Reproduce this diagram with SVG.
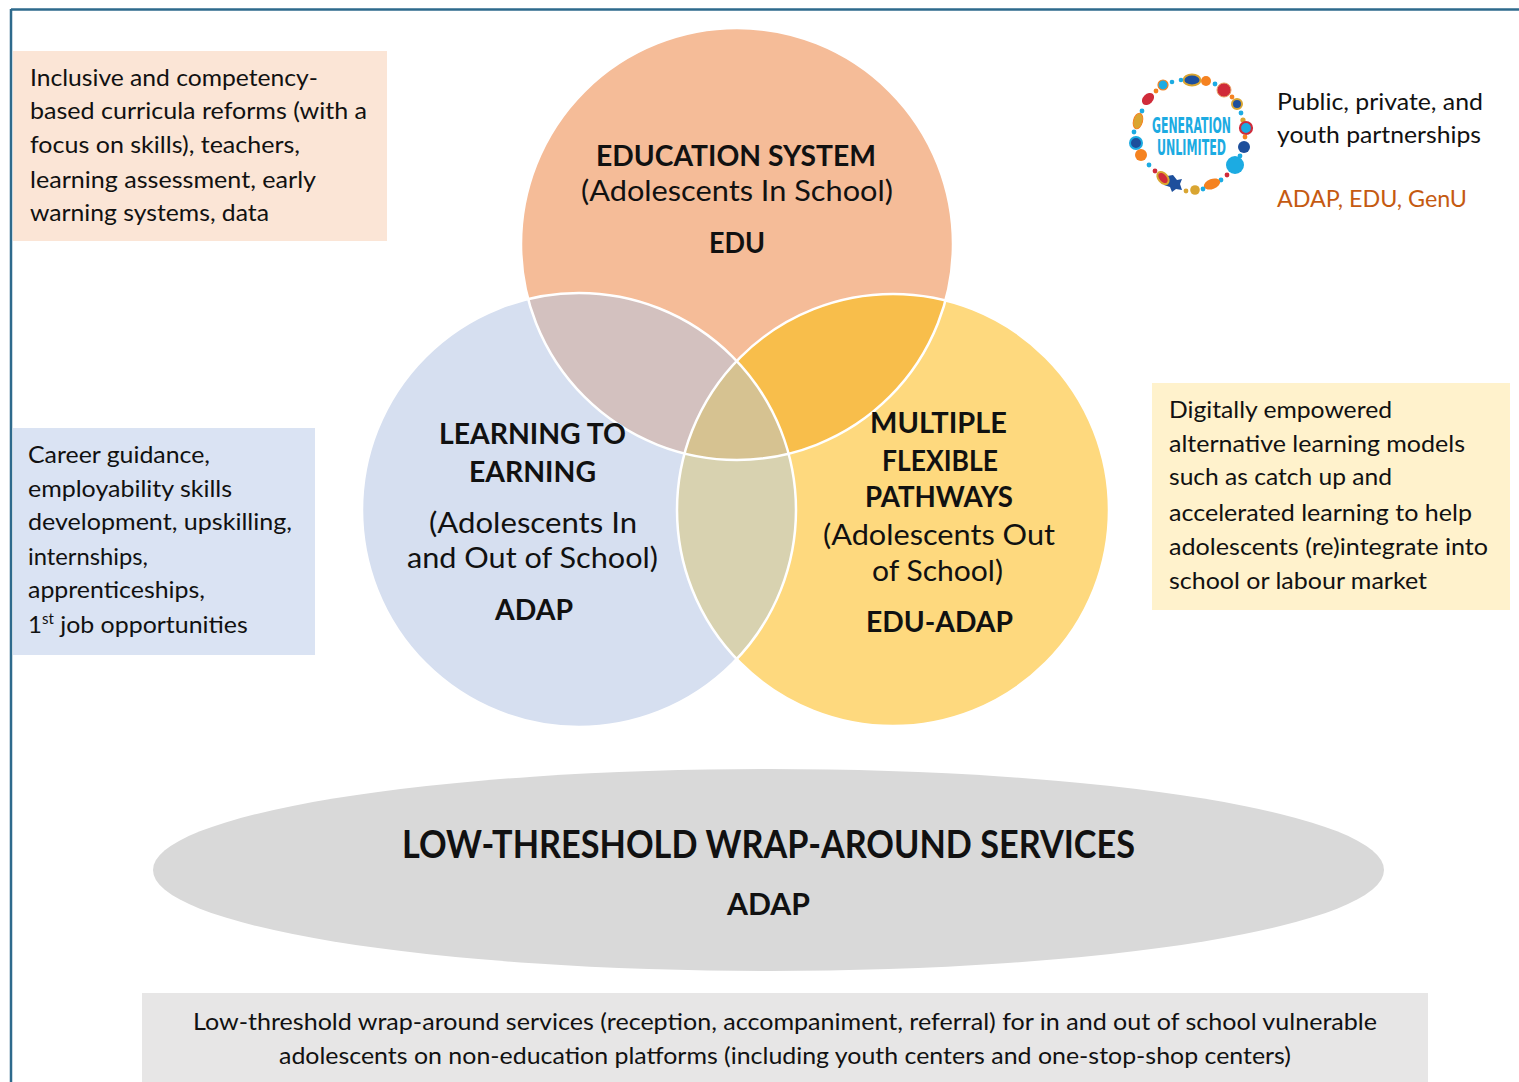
<svg xmlns="http://www.w3.org/2000/svg" width="1519" height="1082" viewBox="0 0 1519 1082">
<style>
  text { font-family: Lato, "Open Sans", "Liberation Sans", sans-serif; fill: #111; }
  .p { font-size: 24px; }
  .c { font-size: 29px; }
  .b { font-weight: bold; }
  .ring { stroke: #ffffff; stroke-width: 2.5; fill: none; }
  .logo { font-family: "DejaVu Sans Condensed", "Liberation Sans", sans-serif; font-weight: bold; fill: #1cabe2; font-size: 21px; }
</style>
<defs>
  <clipPath id="clipA"><circle cx="737" cy="244" r="216"/></clipPath>
  <clipPath id="clipB"><circle cx="579" cy="510" r="217"/></clipPath>
</defs>
<rect x="0" y="0" width="1519" height="1082" fill="#ffffff"/>
<g id="frame">
  <line x1="11" y1="9.5" x2="1519" y2="9.5" stroke="#2e6a8c" stroke-width="2.5"/>
  <line x1="11" y1="9" x2="11" y2="1082" stroke="#2e6a8c" stroke-width="2.5"/>
</g>
<g id="connectors"/>

<g id="venn">
  <circle cx="737" cy="244" r="216" fill="#f5bc98"/>
  <circle cx="579" cy="510" r="217" fill="#d6dff0"/>
  <circle cx="893" cy="510" r="216" fill="#fed97e"/>
  <g clip-path="url(#clipA)">
    <circle cx="579" cy="510" r="217" fill="#d3c1bf"/>
    <circle cx="893" cy="510" r="216" fill="#f8be4b"/>
  </g>
  <g clip-path="url(#clipB)">
    <circle cx="893" cy="510" r="216" fill="#d8d2b0"/>
    <g clip-path="url(#clipA)">
      <circle cx="893" cy="510" r="216" fill="#d6c291"/>
    </g>
  </g>
  <circle class="ring" cx="737" cy="244" r="216"/>
  <circle class="ring" cx="579" cy="510" r="217"/>
  <circle class="ring" cx="893" cy="510" r="216"/>
</g>

<g id="node-edu">
  <text class="c b" x="596" y="166" textLength="280" lengthAdjust="spacingAndGlyphs">EDUCATION SYSTEM</text>
  <text class="c" x="581" y="201" textLength="312" lengthAdjust="spacingAndGlyphs">(Adolescents In School)</text>
  <text class="c b" x="709" y="253" textLength="56" lengthAdjust="spacingAndGlyphs">EDU</text>
</g>

<g id="node-adap">
  <text class="c b" x="439" y="444" textLength="187" lengthAdjust="spacingAndGlyphs">LEARNING TO</text>
  <text class="c b" x="469" y="482" textLength="127" lengthAdjust="spacingAndGlyphs">EARNING</text>
  <text class="c" x="429" y="533" textLength="208" lengthAdjust="spacingAndGlyphs">(Adolescents In</text>
  <text class="c" x="407" y="568" textLength="251" lengthAdjust="spacingAndGlyphs">and Out of School)</text>
  <text class="c b" x="495" y="620" textLength="78" lengthAdjust="spacingAndGlyphs">ADAP</text>
</g>

<g id="node-edu-adap">
  <text class="c b" x="870" y="433" textLength="137" lengthAdjust="spacingAndGlyphs">MULTIPLE</text>
  <text class="c b" x="882" y="471" textLength="116" lengthAdjust="spacingAndGlyphs">FLEXIBLE</text>
  <text class="c b" x="865" y="507" textLength="148" lengthAdjust="spacingAndGlyphs">PATHWAYS</text>
  <text class="c" x="823" y="545" textLength="232" lengthAdjust="spacingAndGlyphs">(Adolescents Out</text>
  <text class="c" x="872" y="581" textLength="131" lengthAdjust="spacingAndGlyphs">of School)</text>
  <text class="c b" x="866" y="632" textLength="147" lengthAdjust="spacingAndGlyphs">EDU-ADAP</text>
</g>

<g id="node-wraparound">
  <ellipse cx="768.5" cy="870" rx="615.5" ry="101" fill="#d9d9d9"/>
  <text class="b" font-size="39" x="402" y="858" textLength="733" lengthAdjust="spacingAndGlyphs">LOW-THRESHOLD WRAP-AROUND SERVICES</text>
  <text class="b" font-size="30" x="727" y="915" textLength="83" lengthAdjust="spacingAndGlyphs">ADAP</text>
</g>

<g id="box-wraparound">
  <rect x="142" y="993" width="1286" height="95" fill="#e7e6e6"/>
  <text class="p" x="193" y="1030" textLength="1184" lengthAdjust="spacingAndGlyphs">Low-threshold wrap-around services (reception, accompaniment, referral) for in and out of school vulnerable</text>
  <text class="p" x="279" y="1064" textLength="1012" lengthAdjust="spacingAndGlyphs">adolescents on non-education platforms (including youth centers and one-stop-shop centers)</text>
</g>

<g id="box-edu">
  <rect x="13" y="51" width="374" height="190" fill="#fbe5d6"/>
  <text class="p" x="30" y="86" textLength="288" lengthAdjust="spacingAndGlyphs">Inclusive and competency-</text>
  <text class="p" x="30" y="119" textLength="337" lengthAdjust="spacingAndGlyphs">based curricula reforms (with a</text>
  <text class="p" x="30" y="153" textLength="270" lengthAdjust="spacingAndGlyphs">focus on skills), teachers,</text>
  <text class="p" x="30" y="188" textLength="286" lengthAdjust="spacingAndGlyphs">learning assessment, early</text>
  <text class="p" x="30" y="221" textLength="239" lengthAdjust="spacingAndGlyphs">warning systems, data</text>
</g>

<g id="box-adap">
  <rect x="13" y="428" width="302" height="227" fill="#dae3f3"/>
  <text class="p" x="28" y="463" textLength="182" lengthAdjust="spacingAndGlyphs">Career guidance,</text>
  <text class="p" x="28" y="497" textLength="204" lengthAdjust="spacingAndGlyphs">employability skills</text>
  <text class="p" x="28" y="530" textLength="264" lengthAdjust="spacingAndGlyphs">development, upskilling,</text>
  <text class="p" x="28" y="565" textLength="120" lengthAdjust="spacingAndGlyphs">internships,</text>
  <text class="p" x="28" y="598" textLength="177" lengthAdjust="spacingAndGlyphs">apprenticeships,</text>
  <text class="p" x="28" y="633">1<tspan font-size="15" dy="-9">st</tspan><tspan dy="9" textLength="194" lengthAdjust="spacingAndGlyphs"> job opportunities</tspan></text>
</g>

<g id="box-edu-adap">
  <rect x="1152" y="383" width="358" height="227" fill="#fff2cc"/>
  <text class="p" x="1169" y="418" textLength="223" lengthAdjust="spacingAndGlyphs">Digitally empowered</text>
  <text class="p" x="1169" y="452" textLength="296" lengthAdjust="spacingAndGlyphs">alternative learning models</text>
  <text class="p" x="1169" y="485" textLength="223" lengthAdjust="spacingAndGlyphs">such as catch up and</text>
  <text class="p" x="1169" y="521" textLength="303" lengthAdjust="spacingAndGlyphs">accelerated learning to help</text>
  <text class="p" x="1169" y="555" textLength="319" lengthAdjust="spacingAndGlyphs">adolescents (re)integrate into</text>
  <text class="p" x="1169" y="589" textLength="258" lengthAdjust="spacingAndGlyphs">school or labour market</text>
</g>

<g id="node-genu">
  <g id="genu-logo">
    <ellipse cx="1192" cy="80" rx="8.5" ry="5.5" fill="#1d4f9c" stroke="#d9a531" stroke-width="2"/>
    <circle cx="1181" cy="80" r="2.3" fill="#1cabe2"/>
    <circle cx="1172" cy="82" r="2.3" fill="#1cabe2"/>
    <circle cx="1206" cy="81" r="5" fill="#f58220"/>
    <circle cx="1215" cy="84" r="2.4" fill="#1cabe2"/>
    <circle cx="1224" cy="90" r="7" fill="#d02b3a" stroke="#e8a060" stroke-width="1"/>
    <circle cx="1232" cy="97" r="2.4" fill="#f58220"/>
    <circle cx="1237" cy="104" r="5" fill="#1d4f9c" stroke="#d9a531" stroke-width="2"/>
    <circle cx="1241" cy="113" r="2.4" fill="#1cabe2"/>
    <circle cx="1243" cy="120" r="2.6" fill="#d9a531"/>
    <circle cx="1246" cy="128" r="6" fill="#1cabe2" stroke="#d02b3a" stroke-width="2.2"/>
    <circle cx="1245" cy="137" r="2.4" fill="#f58220"/>
    <circle cx="1244" cy="147" r="6" fill="#1d4f9c"/>
    <circle cx="1240" cy="156" r="2.4" fill="#1cabe2"/>
    <circle cx="1235" cy="165" r="9" fill="#1cabe2"/>
    <circle cx="1227" cy="175" r="2.4" fill="#d02b3a"/>
    <circle cx="1221" cy="180" r="2.4" fill="#1cabe2"/>
    <ellipse cx="1212" cy="184" rx="8.5" ry="5" fill="#f58220" transform="rotate(-20 1212 184)"/>
    <circle cx="1203" cy="189" r="2.4" fill="#1cabe2"/>
    <circle cx="1195" cy="190" r="4.8" fill="#d9a531"/>
    <circle cx="1186" cy="191" r="2.4" fill="#d9a531"/>
    <path d="M1173 175 L1177 180 L1182 179 L1180 184 L1182 190 L1176 189 L1172 192 L1170 187 L1164 185 L1168 181 L1167 176 Z" fill="#1d4f9c"/>
    <ellipse cx="1163" cy="178" rx="4.5" ry="7" fill="#d02b3a" stroke="#d9a531" stroke-width="2" transform="rotate(-40 1163 178)"/>
    <circle cx="1155" cy="171" r="2.4" fill="#d02b3a"/>
    <circle cx="1149" cy="165" r="2.4" fill="#1cabe2"/>
    <circle cx="1141" cy="155" r="6" fill="#f58220"/>
    <circle cx="1136" cy="143" r="6" fill="#1d4f9c" stroke="#1cabe2" stroke-width="2"/>
    <circle cx="1134" cy="132" r="2.4" fill="#1cabe2"/>
    <ellipse cx="1138" cy="121" rx="4.5" ry="8" fill="#d9a531" stroke="#f58220" stroke-width="1" transform="rotate(15 1138 121)"/>
    <circle cx="1142" cy="111" r="2.4" fill="#1cabe2"/>
    <ellipse cx="1148" cy="99" rx="7" ry="5" fill="#d02b3a" transform="rotate(-45 1148 99)"/>
    <circle cx="1156" cy="91" r="2.4" fill="#f58220"/>
    <circle cx="1163" cy="85" r="5" fill="#1cabe2" stroke="#f58220" stroke-width="1.2"/>
    <text class="logo" x="1152" y="133" textLength="79" lengthAdjust="spacingAndGlyphs">GENERATION</text>
    <text class="logo" x="1157" y="155" textLength="69" lengthAdjust="spacingAndGlyphs">UNLIMITED</text>
  </g>
  <text class="p" x="1277" y="110" textLength="206" lengthAdjust="spacingAndGlyphs">Public, private, and</text>
  <text class="p" x="1277" y="143" textLength="204" lengthAdjust="spacingAndGlyphs">youth partnerships</text>
  <text class="p" x="1277" y="207" textLength="190" lengthAdjust="spacingAndGlyphs" style="fill:#c55a11">ADAP, EDU, GenU</text>
</g>
</svg>
